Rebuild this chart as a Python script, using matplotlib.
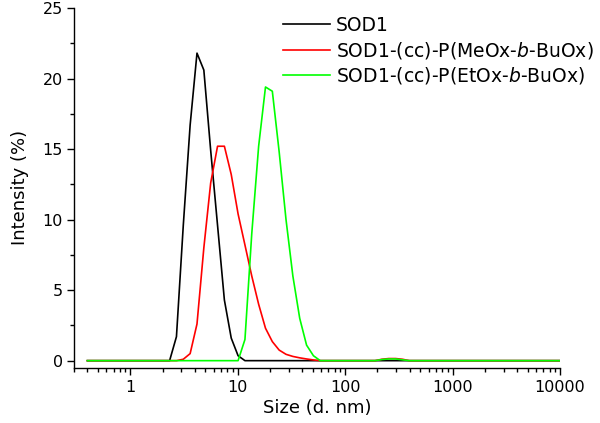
import matplotlib
matplotlib.use("Agg")
import matplotlib.pyplot as plt
from matplotlib.ticker import FixedLocator, LogLocator, MultipleLocator, NullFormatter

# DLS size bins (d. nm)
size_nm = [0.4, 0.4632, 0.5365, 0.6213, 0.7195, 0.8332, 0.9649, 1.117, 1.294, 1.499,
           1.736, 2.01, 2.328, 2.696, 3.122, 3.615, 4.187, 4.849, 5.615, 6.503,
           7.531, 8.721, 10.1, 11.7, 13.54, 15.69, 18.17, 21.04, 24.36, 28.21,
           32.67, 37.84, 43.82, 50.75, 58.77, 68.06, 78.82, 91.28, 105.7, 122.4,
           141.8, 164.2, 190.1, 220.2, 255.0, 295.3, 342.0, 396.1, 458.7, 531.2,
           615.1, 712.4, 825.0, 955.4, 1106, 1281, 1484, 1718, 1990, 2305,
           2669, 3091, 3580, 4145, 4801, 5560, 6439, 7456, 8635, 10000]

sod1 = [0, 0, 0, 0, 0, 0, 0, 0, 0, 0,
        0, 0, 0, 1.7, 9.6, 16.7, 21.8, 20.6, 14.9, 9.6,
        4.3, 1.6, 0.35, 0, 0, 0, 0, 0, 0, 0,
        0, 0, 0, 0, 0, 0, 0, 0, 0, 0,
        0, 0, 0, 0, 0, 0, 0, 0, 0, 0,
        0, 0, 0, 0, 0, 0, 0, 0, 0, 0,
        0, 0, 0, 0, 0, 0, 0, 0, 0, 0]

sod1_meox = [0, 0, 0, 0, 0, 0, 0, 0, 0, 0,
             0, 0, 0, 0, 0.1, 0.5, 2.6, 8.0, 12.6, 15.2,
             15.2, 13.2, 10.4, 8.2, 6.0, 4.0, 2.3, 1.35, 0.75, 0.45,
             0.3, 0.2, 0.12, 0.05, 0, 0, 0, 0, 0, 0,
             0, 0, 0, 0.1, 0.15, 0.15, 0.1, 0, 0, 0,
             0, 0, 0, 0, 0, 0, 0, 0, 0, 0,
             0, 0, 0, 0, 0, 0, 0, 0, 0, 0]

sod1_etox = [0, 0, 0, 0, 0, 0, 0, 0, 0, 0,
             0, 0, 0, 0, 0, 0, 0, 0, 0, 0,
             0, 0, 0, 1.5, 9.0, 15.2, 19.4, 19.1, 14.8, 10.0,
             6.0, 3.0, 1.1, 0.35, 0, 0, 0, 0, 0, 0,
             0, 0, 0, 0.08, 0.12, 0.12, 0.06, 0, 0, 0,
             0, 0, 0, 0, 0, 0, 0, 0, 0, 0,
             0, 0, 0, 0, 0, 0, 0, 0, 0, 0]

labels = ["SOD1", "SOD1-(cc)-P(MeOx-$\\it{b}$-BuOx)", "SOD1-(cc)-P(EtOx-$\\it{b}$-BuOx)"]
colors = ["black", "#ff0000", "#00ff00"]
x_ticks = [1, 10, 100, 1000, 10000]
x_ticklabels = ["1", "10", "100", "1000", "10000"]

plt.rcParams["font.family"] = ["DejaVu Sans"]
plt.rcParams["mathtext.fontset"] = "dejavusans"

fig = plt.figure(figsize=(6, 4.23), dpi=100)
ax = fig.add_axes([0.1233, 0.1307, 0.81, 0.8504])

for ys, lab, c in zip([sod1, sod1_meox, sod1_etox], labels, colors):
    ax.plot(size_nm, ys, color=c, lw=1.2, label=lab)

ax.set_xscale("log")
ax.set_xlim(0.3, 10000)
ax.set_ylim(-0.5, 25)

ax.xaxis.set_major_locator(FixedLocator(x_ticks))
ax.set_xticklabels(x_ticklabels)
ax.xaxis.set_minor_locator(LogLocator(base=10, subs=range(2, 10)))
ax.xaxis.set_minor_formatter(NullFormatter())
ax.yaxis.set_major_locator(MultipleLocator(5))
ax.yaxis.set_minor_locator(MultipleLocator(2.5))

for s in ["top", "right"]:
    ax.spines[s].set_visible(False)
for s in ["left", "bottom"]:
    ax.spines[s].set_linewidth(1.0)

ax.tick_params(which="major", direction="out", length=5, width=1.0, labelsize=11.5)
ax.tick_params(which="minor", direction="out", length=3, width=1.0)
ax.tick_params(axis="x", which="major", pad=4)
ax.tick_params(axis="y", which="major", pad=3)

ax.set_xlabel("Size (d. nm)", fontsize=13, labelpad=3)
ax.set_ylabel("Intensity (%)", fontsize=13, labelpad=10)

ax.legend(loc="upper left", bbox_to_anchor=(283 / 600, 1 - 16 / 423),
          bbox_transform=fig.transFigure, frameon=False, fontsize=13.5,
          handlelength=2.5, handletextpad=0.3, labelspacing=0.25,
          borderpad=0, borderaxespad=0)

fig.savefig("out.png", dpi=100)
